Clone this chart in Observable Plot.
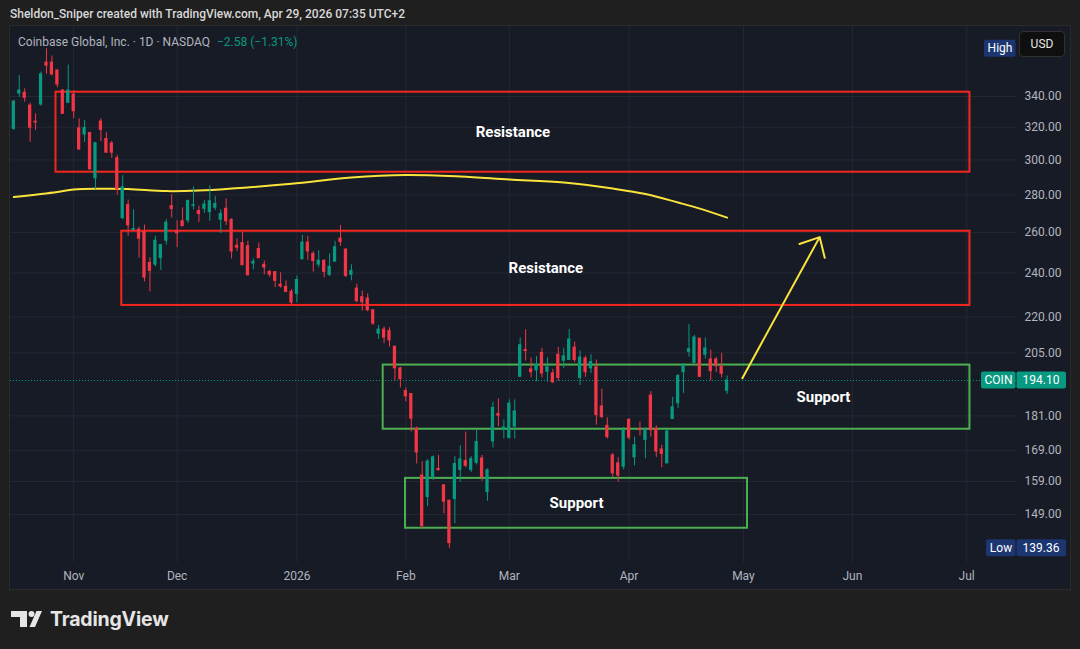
<!DOCTYPE html>
<html><head><meta charset="utf-8">
<script src="https://cdn.jsdelivr.net/npm/d3@7"></script>
<script src="https://cdn.jsdelivr.net/npm/@observablehq/plot@0.6"></script>
<style>
html,body{margin:0;padding:0;background:#1f1f1f;width:1080px;height:649px;overflow:hidden;font-family:Roboto,"Noto Sans",sans-serif;}
#header{position:absolute;left:10px;top:7px;color:#d8d8d8;font-size:12px;font-weight:500;white-space:nowrap;}
#panel{position:absolute;left:10px;top:26px;width:1060px;height:563px;background:#171b26;outline:1px solid #2b2b2b;}
#panel svg{position:absolute;left:0;top:0;}
#legend{position:absolute;left:8px;top:9px;font-size:12px;color:#b2b5be;white-space:nowrap;}
#legend .chg{color:#089981;margin-left:4px;}
#usd{position:absolute;left:1009px;top:5px;width:46px;height:26px;box-sizing:border-box;background:#0f0f0f;border:1px solid #303030;border-radius:4px;color:#e6e6e6;font-size:12px;line-height:24px;text-align:center;}
#logo{position:absolute;left:11px;top:604px;height:30px;display:flex;align-items:center;}
#logo span{font-family:Inter,Roboto,sans-serif;font-weight:700;font-size:19.5px;color:#e6e6e6;margin-left:7px;letter-spacing:-0.2px;}
</style></head>
<body>
<div id="header">Sheldon_Sniper created with TradingView.com, Apr 29, 2026 07:35 UTC+2</div>
<div id="panel"></div>
<div id="logo"><svg width="32" height="18" viewBox="0 0 32 18"><path d="M0,1H16V17H9V7H0Z" fill="#e6e6e6"/><circle cx="20.5" cy="4" r="3" fill="#e6e6e6"/><path d="M25.5,1H31L24,17H18.5Z" fill="#e6e6e6"/></svg><span>TradingView</span></div>
<script>
// ---- Data (COIN daily candles, Oct 17 2025 – Apr 28 2026) ----
const open = [319,342,342.5,334,323.5,334.7,363.5,363.5,357.9,344,
335.8,341.3,319.3,315.4,316.4,289.3,323.6,312.6,309.9,301,
267.5,274.4,261.2,261.4,260.2,244.8,244,247.1,255.8,273.8,
260.7,265.8,266.2,274,271.2,272.4,270.6,273,266.6,272.4,
266.5,253.2,254.6,253,244.5,251.6,243.9,240.5,240.4,234.5,
233.5,231.2,230.3,246.5,254.8,249.2,244,245.8,239.1,245.4,
256.8,251.3,239.1,232.7,228.8,228.2,223,212.9,214.6,214,
207.5,198.8,190.1,189,176.5,160.9,154.2,160.3,163,157.8,
153.1,153.6,162.7,165.6,162.7,165,166.4,155.7,172.1,181.7,
176.1,173.3,177.2,195.5,206.1,198.4,198,205,197.5,196.8,
204.2,201.8,202.1,207.1,195.1,202.7,198.8,199.2,184.4,177.5,
167.4,164.8,163.7,179.6,166.8,176.3,172.6,188.4,176.4,169.4,
164.8,179.9,185.6,197.3,205.4,200.9,210.8,204.2,202.3,202.3,
199.4,190.2];
const high = [337.3,354.4,345.2,335.5,328.6,356.8,373.6,368.3,358.4,344.7,
361.8,344,325.3,324.2,316.7,310.6,325.4,316.6,311.2,302.8,
290.8,277.1,271.9,262.7,263.8,247.3,258,253.6,266.6,280,
266.1,272.9,277.1,284.4,273.8,277,285,279.1,271.9,277.7,
267.1,256.8,260,255.5,246.7,254.6,245.7,241.2,240.5,240.1,
236.3,232.3,238.6,258.5,258,250.3,250.8,246.3,249.2,255.5,
263.6,251.8,243.9,234.8,231.6,230.4,223,216.4,215.8,215.4,
207.5,199.2,191.3,189,177.1,165.4,166,167.2,167.4,158.1,
153.1,167,170.6,175.3,167,176,167.4,163,185.9,187.2,
179.6,186.8,186.8,211.1,214.6,202.9,203.6,206.8,203.1,198.4,
207.2,206.8,214.6,209.4,205.7,203.6,204.2,202.1,190.8,180.3,
168.1,166.7,176.9,180,173.6,178.8,176.7,189.9,177.5,170.8,
176.2,187.7,196.4,200.7,216.8,212.2,210.8,211.1,206.1,203.1,
204.8,195.8];
const low = [317.9,339.5,336.2,310.6,317.9,333.6,355.2,354,345.9,328.2,
335.8,325.4,305.8,310.6,294.2,283,311,304,301,280,
266.5,258,261.2,247.1,235.8,231.2,242.9,241.2,253.6,267.5,
252.3,263.2,264.7,271.9,265.2,270,265.8,271.5,259.4,263.6,
246.7,250.4,243.7,238.6,241.5,247.1,239.1,237.9,233.2,232.9,
230.8,225.3,226.3,246.5,246,240.4,242.5,237.7,238.3,245.4,
253,237.8,236.3,226.3,222.6,222.3,216.4,210.5,208.7,207.4,
194,191.3,186.1,175.3,164.6,144.9,151.3,159.4,162.4,149.2,
139.36,146.3,158.8,163.4,161.9,164.3,159.1,152.9,169.9,177.2,
172.9,172.9,172.9,195.5,201.7,195.1,193.6,195.1,193.4,192.9,
193.9,198.8,202.1,201.2,192.2,195.3,196.8,177.7,180,172.9,
160.3,158.8,162.7,172.6,164,174,166.3,173.6,166.7,163.4,
164.8,179.9,183.7,189.2,203.3,200.7,195.3,202.5,193.9,197.2,
195.1,188.8];
const close = [336.6,344,339.1,319.7,323,355.2,361.4,355.2,348.1,328.6,
344,330.3,306.2,319.5,294.4,310,318.3,304.3,304.3,283,
284.2,263.6,261.7,256.8,237.8,241,255.8,253.6,265,272.3,
259.5,263.2,276.6,274.3,269.6,274.7,276.5,275,269.6,265.8,
250.4,252.3,243.7,238.9,245.3,247.1,242.6,239.2,236.3,233.7,
231.2,226.3,236.7,254.8,250.4,245.7,245.9,240.5,242.9,252.5,
255.1,238.6,241,227,226.5,223,217.2,214.6,211.2,210.1,
198.8,194.6,188.1,180,168.4,145.6,165.4,166.8,162.6,152.8,
140.8,164.6,166.1,164,166.2,171.9,160.4,162.6,183.9,181.1,
176.9,185.4,182.6,208.1,205.7,197.3,200.1,196.8,199.2,193.4,
195.1,203.6,210.5,202.1,203.1,197.3,201.3,181.3,180.6,173.6,
161.6,160.9,175.9,173.4,170.8,176,176.2,176,168.7,167.9,
175.5,184.1,195.8,200,206.5,211.3,195.5,206.8,197.7,199.7,
196.68,194.10];

// moving average line (read at selected bars)
const maIdx = [0,8,11,16,21,28,34,40,51,62,72,82,91,101,110,116,122,126,131];
const maVal = [278.8,281.6,283,283.4,283.3,282.1,282.4,283.5,286.2,289.8,291.2,290.3,288.6,286.9,283.5,280.5,275.8,272.5,267.7];

// drawn zones (bar index, price)
const zoneX1 = [7.75,19.83,67.84,71.94];
const zoneX2 = [175.6,175.6,175.6,134.75];
const zoneTop = [342.9,260.6,200.1,160];
const zoneBottom = [292.8,225.1,176.3,145];
const zoneColor = ["#f5271d","#f5271d","#4caf50","#4caf50"];
const zoneText = ["Resistance","Resistance","Support","Support"];
const zoneTextIdx = [null,null,148.7,null];

// arrow
const arrowFrom = {i:133.8, p:195};
const arrowTo = {i:148.0, p:257.6};

// axes
const priceTicks = [340,320,300,280,260,240,220,205,181,169,159,149];
const monthLabels = ["Nov","Dec","2026","Feb","Mar","Apr","May","Jun","Jul"];
const holidays = new Set(["2025-11-27","2025-12-25","2026-01-01","2026-01-19","2026-02-16","2026-04-03","2026-05-25","2026-06-19"]);

// ---- sessions calendar ----
const sessions = [];
for (let t = Date.UTC(2025,9,17); t <= Date.UTC(2026,6,1); t += 864e5) {
  const d = new Date(t), wd = d.getUTCDay(), s = d.toISOString().slice(0,10);
  if (wd === 0 || wd === 6 || holidays.has(s)) continue;
  sessions.push(s);
}
const tickIdx = [];
for (let i = 1; i < sessions.length; i++) if (sessions[i].slice(0,7) !== sessions[i-1].slice(0,7)) tickIdx.push(i);
const tickLabel = new Map(tickIdx.map((t,k) => [t, monthLabels[k]]));

const candles = close.map((c,i) => ({i, o:open[i], h:high[i], l:low[i], c, date:sessions[i]}));
const UP = "#089981", DOWN = "#f23645";
const col = d => d.c >= d.o ? UP : DOWN;
const ma = maIdx.map((i,k) => ({i, v:maVal[k]}));
const zones = zoneX1.map((x1,k) => ({x1, x2:zoneX2[k], top:zoneTop[k], bottom:zoneBottom[k], color:zoneColor[k],
  text:zoneText[k], tx: zoneTextIdx[k] ?? (x1+zoneX2[k])/2, ty: Math.sqrt(zoneTop[k]*zoneBottom[k])}));

const lastClose = close[close.length-1];
const prevClose = close[close.length-2];
const minLow = d3.min(low), maxHigh = d3.max(high);
const chg = lastClose - prevClose, pct = chg/prevClose*100;
const fmtSigned = v => (v < 0 ? "\u2212" : "+") + Math.abs(v).toFixed(2);

// ---- badge render mark ----
function badges(index, scales, values, dims) {
  const ns = "http://www.w3.org/2000/svg";
  const g = document.createElementNS(ns, "g");
  const xr = dims.width - dims.marginRight;
  const items = [
    {price:lastClose, left:"COIN", right:lastClose.toFixed(2), bg:UP, lw:35},
    {price:minLow, left:"Low", right:minLow.toFixed(2), bg:"#1c3672", lw:30},
    {price:maxHigh, left:"High", right:null, bg:"#1c3672", lw:32}
  ];
  const mk = (tag, attrs, txt) => { const e = document.createElementNS(ns, tag); for (const k in attrs) e.setAttribute(k, attrs[k]); if (txt != null) e.textContent = txt; g.appendChild(e); return e; };
  for (const it of items) {
    const y = scales.y(it.price);
    mk("rect", {x: xr - it.lw, y: y - 8.5, width: it.lw - 0.5, height: 17, rx: 2, fill: it.bg});
    mk("text", {x: xr - it.lw/2, y: y, "text-anchor":"middle", "dominant-baseline":"central", fill:"#ffffff", "font-size":12}, it.left);
    if (it.right) {
      mk("rect", {x: xr + 0.5, y: y - 8.5, width: 49.5, height: 17, rx: 2, fill: it.bg});
      mk("text", {x: xr + 25, y: y, "text-anchor":"middle", "dominant-baseline":"central", fill:"#ffffff", "font-size":12}, it.right);
    }
  }
  return g;
}

const chart = Plot.plot({
  width: 1060, height: 562,
  marginLeft: 0, marginRight: 54, marginTop: 0, marginBottom: 26,
  style: {background: "transparent", color: "#b2b5be", fontFamily: "Roboto, 'Noto Sans', sans-serif", fontSize: "12px", overflow: "visible"},
  x: {type: "linear", domain: [-0.606, 184.15], axis: null},
  y: {type: "log", domain: [135.52, 390.38], axis: null},
  marks: [
    Plot.gridY(priceTicks, {stroke: "#242835", strokeOpacity: 1}),
    Plot.gridX(tickIdx, {stroke: "#242835", strokeOpacity: 1}),
    Plot.ruleY([lastClose], {stroke: UP, strokeWidth: 1, strokeDasharray: "1,2"}),
    Plot.rect(zones, {x1: "x1", x2: "x2", y1: "top", y2: "bottom", stroke: "color", strokeWidth: 2, fill: "none"}),
    Plot.line(ma, {x: "i", y: "v", stroke: "#f9e43c", strokeWidth: 2, curve: "catmull-rom"}),
    Plot.ruleX(candles, {x: "i", y1: "l", y2: "h", stroke: col, strokeWidth: 1}),
    Plot.rect(candles, {x1: d => d.i - 0.3, x2: d => d.i + 0.3, y1: "o", y2: "c", fill: col, insetTop: -0.5, insetBottom: -0.5}),
    Plot.arrow([{a: arrowFrom, b: arrowTo}], {x1: d => d.a.i, y1: d => d.a.p, x2: d => d.b.i, y2: d => d.b.p, stroke: "#f9e43c", strokeWidth: 2, headLength: 16, headAngle: 85}),
    Plot.text(zones, {x: "tx", y: "ty", text: "text", fill: "#ffffff", fontSize: 15, fontWeight: "bold"}),
    Plot.axisX({ticks: tickIdx, tickFormat: d => tickLabel.get(d), tickSize: 0, tickPadding: 9, fontSize: 12, color: "#b2b5be", label: null}),
    Plot.text(priceTicks, {y: d => d, text: d => d.toFixed(2), frameAnchor: "right", dx: 45, textAnchor: "end", fill: "#b2b5be", fontSize: 12}),
    badges
  ]
});
const panel = document.getElementById("panel");
panel.appendChild(chart);
const legend = document.createElement("div");
legend.id = "legend";
legend.innerHTML = `Coinbase Global, Inc. · 1D · NASDAQ <span class="chg">${fmtSigned(chg)} (${fmtSigned(pct)}%)</span>`;
panel.appendChild(legend);
const usd = document.createElement("div");
usd.id = "usd"; usd.textContent = "USD";
panel.appendChild(usd);
</script>
</body></html>
